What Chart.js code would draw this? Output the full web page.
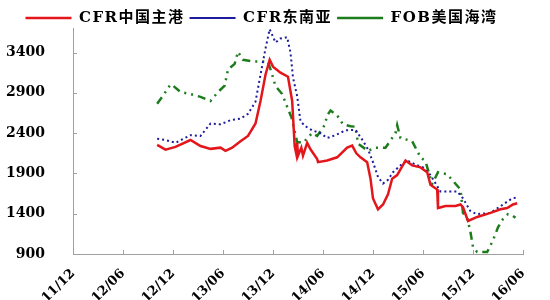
<!DOCTYPE html>
<html>
<head>
<meta charset="utf-8">
<script src="https://cdn.jsdelivr.net/npm/chart.js@4.4.0/dist/chart.umd.min.js"></script>
<style>
  html, body { margin: 0; padding: 0; background: #fff; }
  #wrap { width: 550px; height: 300px; }
</style>
</head>
<body>
<div id="wrap"><canvas id="myChart"></canvas></div>
<script>
// x = months since 2011-12
var xTickLabels = ['11/12', '12/06', '12/12', '13/06', '13/12', '14/06', '14/12', '15/06', '15/12', '16/06'];
var yTickValues = [900, 1400, 1900, 2400, 2900, 3400];

var chinaMonths = [10.1, 11.1, 12.3, 14.1, 15.3, 16.5, 17.7, 18.3, 19.1, 20.1, 21.0, 21.9, 22.5, 23.1, 23.6, 24.0, 24.9, 25.8, 26.3, 26.6, 26.8, 26.9, 27.0, 27.4, 27.6, 28.1, 28.5, 29.3, 29.4, 30.5, 31.7, 32.9, 33.5, 34.0, 34.5, 35.3, 35.7, 36.0, 36.6, 37.2, 37.8, 38.3, 38.9, 39.9, 40.7, 41.7, 42.5, 42.9, 43.7, 43.8, 44.7, 45.9, 46.5, 46.8, 47.4, 48.5, 50.1, 51.3, 52.1, 52.8, 53.3];
var chinaValues = [2255, 2195, 2230, 2315, 2240, 2205, 2220, 2180, 2220, 2300, 2365, 2520, 2800, 3125, 3310, 3225, 3150, 3100, 2800, 2240, 2140, 2280, 2120, 2220, 2120, 2280, 2200, 2080, 2040, 2060, 2100, 2220, 2245, 2150, 2100, 2040, 1835, 1590, 1455, 1515, 1640, 1835, 1880, 2060, 2000, 1975, 1915, 1760, 1700, 1470, 1495, 1495, 1515, 1480, 1310, 1360, 1410, 1455, 1470, 1515, 1530];

var seaMonths = [10.1, 11.1, 12.3, 14.1, 15.3, 16.5, 17.7, 18.9, 20.1, 21.0, 21.9, 22.5, 23.1, 23.6, 24.3, 24.9, 25.7, 26.1, 26.4, 26.9, 27.3, 27.9, 28.7, 29.7, 30.5, 31.5, 32.7, 33.9, 34.7, 35.4, 36.0, 36.6, 37.2, 37.8, 38.4, 39.3, 40.1, 41.1, 42.0, 42.9, 44.1, 45.3, 46.1, 46.8, 47.7, 48.5, 50.1, 51.6, 52.7, 53.2];
var seaValues = [2330, 2315, 2280, 2375, 2365, 2520, 2510, 2560, 2580, 2640, 2790, 3125, 3450, 3690, 3525, 3575, 3590, 3400, 3090, 2860, 2545, 2485, 2435, 2400, 2340, 2375, 2435, 2440, 2320, 2200, 2040, 1855, 1775, 1820, 1915, 2000, 2060, 2010, 1975, 1880, 1675, 1675, 1675, 1590, 1430, 1395, 1410, 1515, 1590, 1600];

var gulfMonths = [10.1, 10.8, 11.7, 12.0, 12.9, 14.1, 15.3, 16.5, 17.4, 18.2, 18.6, 19.4, 19.8, 20.4, 21.5, 22.2, 23.4, 23.9, 24.3, 25.1, 25.8, 26.2, 26.9, 27.6, 28.7, 29.3, 30.2, 30.5, 30.9, 31.7, 32.4, 33.3, 33.9, 34.2, 35.4, 36.3, 37.5, 38.7, 38.9, 39.3, 40.7, 41.7, 42.3, 43.1, 43.8, 44.9, 46.5, 46.8, 47.3, 47.7, 48.0, 48.5, 49.7, 50.4, 51.0, 51.6, 52.2, 52.7, 53.1];
var gulfValues = [2765, 2865, 3005, 2990, 2910, 2885, 2850, 2800, 2910, 2990, 3190, 3260, 3410, 3310, 3290, 3290, 3290, 3125, 2985, 2885, 2700, 2600, 2290, 2280, 2400, 2365, 2500, 2620, 2680, 2620, 2510, 2485, 2480, 2270, 2180, 2220, 2220, 2400, 2500, 2340, 2300, 2100, 2050, 1770, 1915, 1890, 1700, 1410, 1350, 1170, 985, 925, 925, 1070, 1230, 1335, 1395, 1380, 1350];

function toPoints(xs, ys) {
  return xs.map(function(x, i) { return { x: x, y: ys[i] }; });
}

var axisColor = '#a0a0a0';
var serif = "'DejaVu Serif', 'Noto Sans CJK SC', serif";

// small inward tick marks like the original
var innerTicks = {
  id: 'innerTicks',
  afterDraw: function(chart) {
    var ctx = chart.ctx, xs = chart.scales.x, ys = chart.scales.y, area = chart.chartArea;
    ctx.save();
    ctx.strokeStyle = axisColor;
    ctx.lineWidth = 1;
    ctx.beginPath();
    xs.ticks.forEach(function(t) {
      var px = Math.round(xs.getPixelForValue(t.value)) + 0.5;
      ctx.moveTo(px, area.bottom);
      ctx.lineTo(px, area.bottom - 4);
    });
    ys.ticks.forEach(function(t) {
      var py = Math.round(ys.getPixelForValue(t.value)) + 0.5;
      ctx.moveTo(area.left, py);
      ctx.lineTo(area.left + 4, py);
    });
    ctx.stroke();
    ctx.restore();
  }
};

// the original legend text is wide; space letters out and fix the legend height
var wideLegend = {
  id: 'wideLegend',
  beforeInit: function(chart) {
    var lg = chart.legend;
    var fit = lg.fit, draw = lg.draw;
    lg.fit = function() {
      this.ctx.save();
      this.ctx.letterSpacing = '1.5px';
      fit.call(this);
      this.ctx.restore();
      this.height = 23;
    };
    lg.draw = function() {
      this.ctx.save();
      this.ctx.letterSpacing = '1.5px';
      draw.call(this);
      this.ctx.restore();
    };
  }
};

var ctx = document.getElementById('myChart').getContext('2d');
var myChart = new Chart(ctx, {
  type: 'line',
  data: {
    datasets: [{
      label: 'CFR中国主港',
      data: toPoints(chinaMonths, chinaValues),
      borderColor: '#e3161c',
      backgroundColor: '#e3161c',
      borderWidth: 2.5,
      pointRadius: 0,
      tension: 0
    }, {
      label: 'CFR东南亚',
      data: toPoints(seaMonths, seaValues),
      borderColor: '#1c1c9c',
      backgroundColor: '#1c1c9c',
      borderWidth: 2,
      borderDash: [2, 3],
      pointRadius: 0,
      tension: 0
    }, {
      label: 'FOB美国海湾',
      data: toPoints(gulfMonths, gulfValues),
      borderColor: '#1d7d1d',
      backgroundColor: '#1d7d1d',
      borderWidth: 2.5,
      borderDash: [8, 5, 2, 5, 2, 5],
      pointRadius: 0,
      tension: 0
    }]
  },
  options: {
    responsive: true,
    maintainAspectRatio: false,
    animation: false,
    layout: { padding: { left: 0, right: 27, top: 0, bottom: 0 } },
    scales: {
      x: {
        type: 'linear',
        min: 0,
        max: 54,
        afterBuildTicks: function(scale) {
          scale.ticks = xTickLabels.map(function(l, i) { return { value: i * 6 }; });
        },
        afterFit: function(scale) { scale.height = 46; },
        ticks: {
          autoSkip: false,
          maxRotation: 45,
          minRotation: 45,
          color: '#000',
          font: { family: serif, size: 13, weight: 'bold' },
          padding: 4,
          callback: function(v) { return xTickLabels[Math.round(v / 6)]; }
        },
        grid: { display: false },
        border: { display: true, color: axisColor, width: 1 }
      },
      y: {
        min: 900,
        max: 3700,
        afterBuildTicks: function(scale) {
          scale.ticks = yTickValues.map(function(v) { return { value: v }; });
        },
        afterFit: function(scale) { scale.width = 73; },
        ticks: {
          color: '#000',
          font: { family: serif, size: 14, weight: 'bold' },
          padding: 20,
          callback: function(v) { return String(v); }
        },
        grid: { display: false },
        border: { display: true, color: axisColor, width: 1 }
      }
    },
    plugins: {
      legend: {
        position: 'top',
        labels: {
          usePointStyle: true,
          pointStyle: 'line',
          pointStyleWidth: 46,
          color: '#000',
          font: { family: serif, size: 15, weight: 'bold' },
          padding: 5
        }
      },
      tooltip: { enabled: false }
    }
  },
  plugins: [innerTicks, wideLegend]
});
</script>
</body>
</html>
